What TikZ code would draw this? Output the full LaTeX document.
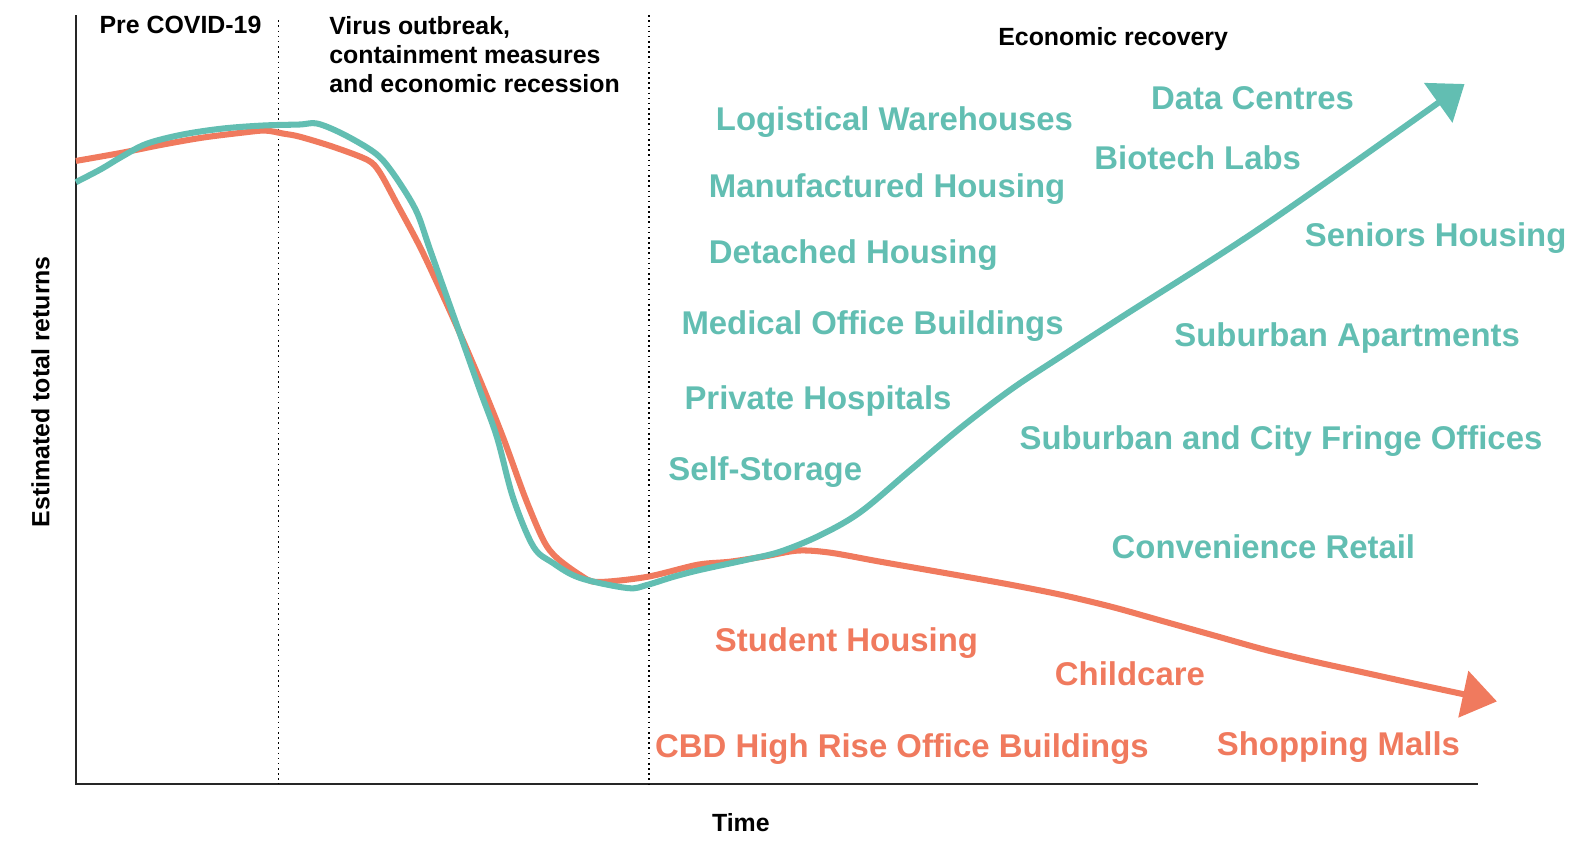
\documentclass[tikz,border=0pt]{standalone}
\usepackage{fontspec}
\setmainfont{Liberation Sans}
\usetikzlibrary{arrows.meta}
\definecolor{tealc}{HTML}{62BEB2}
\definecolor{coralc}{HTML}{F07A5E}
\begin{document}
\begin{tikzpicture}[x=0.02cm,y=-0.02cm,
  blk/.style={font=\bfseries\fontsize{14}{16.5}\selectfont, text=black, inner sep=0pt, anchor=west},
  uplab/.style={font=\bfseries\fontsize{18.5}{21}\selectfont, text=tealc, inner sep=0pt, anchor=west},
  downlab/.style={font=\bfseries\fontsize{18.5}{21}\selectfont, text=coralc, inner sep=0pt, anchor=west},
  curve/.style={line width=3.4pt, line join=round},
  axis/.style={line width=1.1pt, black!85},
  divider/.style={line width=0.9pt, dotted}]
\useasboundingbox (0,0) rectangle (1568,843);

% axes
\coordinate (ytop) at (75,15);
\coordinate (orig) at (75,775);
\coordinate (xend) at (1460,775);
\draw[axis] (ytop) -- (orig) -- (xend);

% dividers
\coordinate (d1t) at (275,20);
\coordinate (d1b) at (275,775);
\coordinate (d2t) at (641,15);
\coordinate (d2b) at (641,775);
\draw[divider] (d1t) -- (d1b);
\draw[divider] (d2t) -- (d2b);

% coral curve
\draw[curve, coralc, -{Triangle[length=0.68cm, width=0.92cm]}]
  plot[smooth, tension=0.5] coordinates {
  (75,159) (120,151) (160,143) (200,136) (240,131) (262,129) (280,132)
  (296,135) (329,145) (363,158) (375,170) (392,201) (417,248) (448,315)
  (474,375) (497,432) (519,492) (537,534) (550,551) (573,568)
  (590,575) (639,570) (689,558) (721,555) (754,550) (788,544) (820,546)
  (870,555) (950,569) (1000,578) (1050,588) (1100,600) (1150,614)
  (1200,628) (1250,642) (1300,654) (1350,665) (1400,676) (1479,693)};

% teal curve
\draw[curve, tealc, -{Triangle[length=0.64cm, width=0.94cm]}]
  plot[smooth, tension=0.55] coordinates {
  (75,180) (100,167) (120,155) (145,142) (180,133) (220,127) (260,124)
  (296,123) (313,122) (336,131) (363,146) (378,158) (395,181) (412,210)
  (425,247) (452,323) (474,385) (491,432) (507,492) (527,540) (546,556)
  (573,571) (620,581) (639,578) (665,570) (692,563) (738,553) (771,545)
  (810,529) (850,506) (900,464) (950,422) (1000,384) (1050,351)
  (1107,314) (1250,222) (1447,83)};

% phase labels
\node[blk] (pre) at (98,25) {Pre COVID-19};
\node[blk, align=left] (virus) at (325,54) {Virus outbreak,\\containment measures\\and economic recession};
\node[blk] (recov) at (986,39) {Economic recovery};
\node[blk, anchor=center] (time) at (732,813) {Time};
\node[blk, anchor=center, rotate=90] (ylab) at (40,387) {Estimated total returns};

% winners
\node[uplab] (lw) at (707,121) {Logistical Warehouses};
\node[uplab] (dc) at (1137,97) {Data Centres};
\node[uplab] (mh) at (700,187) {Manufactured Housing};
\node[uplab] (bl) at (1081,156) {Biotech Labs};
\node[uplab] (dh) at (700,252) {Detached Housing};
\node[uplab] (sh) at (1289,235) {Seniors Housing};
\node[uplab] (mob) at (673,322) {Medical Office Buildings};
\node[uplab] (sa) at (1160,334) {Suburban Apartments};
\node[uplab] (ph) at (676,396) {Private Hospitals};
\node[uplab] (scf) at (1007,436) {Suburban and City Fringe Offices};
\node[uplab] (ss) at (660,466) {Self-Storage};
\node[uplab] (cr) at (1098,540) {Convenience Retail};

% losers
\node[downlab] (stu) at (706,635) {Student Housing};
\node[downlab] (cc) at (1042,666) {Childcare};
\node[downlab] (cbd) at (647,740) {CBD High Rise Office Buildings};
\node[downlab] (sm) at (1202,738) {Shopping Malls};
\end{tikzpicture}
\end{document}
